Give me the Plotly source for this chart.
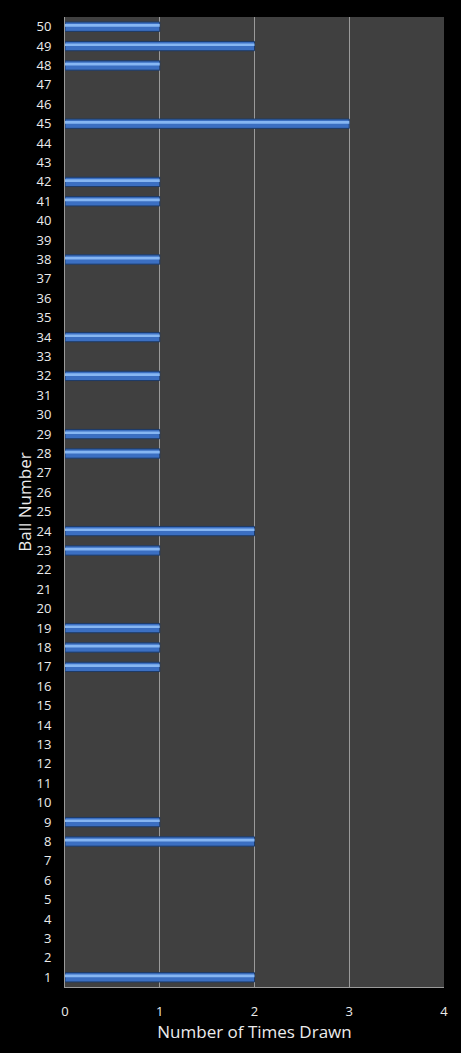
import plotly.graph_objects as go

balls = [1, 8, 9, 17, 18, 19, 23, 24, 28, 29, 32, 34, 38, 41, 42, 45, 48, 49, 50]
times_drawn = [2, 2, 1, 1, 1, 1, 1, 2, 1, 1, 1, 1, 1, 1, 1, 3, 1, 2, 1]

fig = go.Figure()

# base bar with a dark rim
fig.add_trace(go.Bar(x=times_drawn, y=balls, orientation="h", width=0.48,
                     marker_color="#3b6fc2", marker_line_color="#1d3a66",
                     marker_line_width=1, hoverinfo="x+y"))
# lighter streak to fake the bevelled look
fig.add_trace(go.Bar(x=times_drawn, y=balls, orientation="h", width=0.14,
                     offset=0.0, marker_color="#86b6f2", marker_line_width=0,
                     hoverinfo="skip"))

fig.update_layout(
    template="none",
    barmode="overlay",
    showlegend=False,
    width=461, height=1053,
    margin=dict(l=65, r=17, t=17, b=66),
    paper_bgcolor="black",
    plot_bgcolor="#404040",
    font=dict(family="Open Sans", color="#ececec", size=13),
)
fig.update_xaxes(range=[0, 4], dtick=1, showgrid=True, gridcolor="#9a9a9a",
                 gridwidth=1, zeroline=False, showline=True, linecolor="#9a9a9a",
                 ticks="outside", ticklen=12, tickcolor="rgba(0,0,0,0)",
                 tickfont=dict(color="#ececec", size=13),
                 title=dict(text="Number of Times Drawn", standoff=6,
                            font=dict(size=17, color="#ececec")))
fig.update_yaxes(range=[0.5, 50.5], dtick=1, tick0=1, showgrid=False,
                 zeroline=False, showline=True, linecolor="#9a9a9a",
                 ticks="outside", ticklen=10, tickcolor="rgba(0,0,0,0)",
                 tickfont=dict(color="#ececec", size=13),
                 title=dict(text="Ball Number", standoff=0,
                            font=dict(size=17, color="#ececec")))

fig.write_html("out.html", config={"displayModeBar": False},
               post_script="document.body.style.margin='0';"
                           "document.body.style.background='black';")
